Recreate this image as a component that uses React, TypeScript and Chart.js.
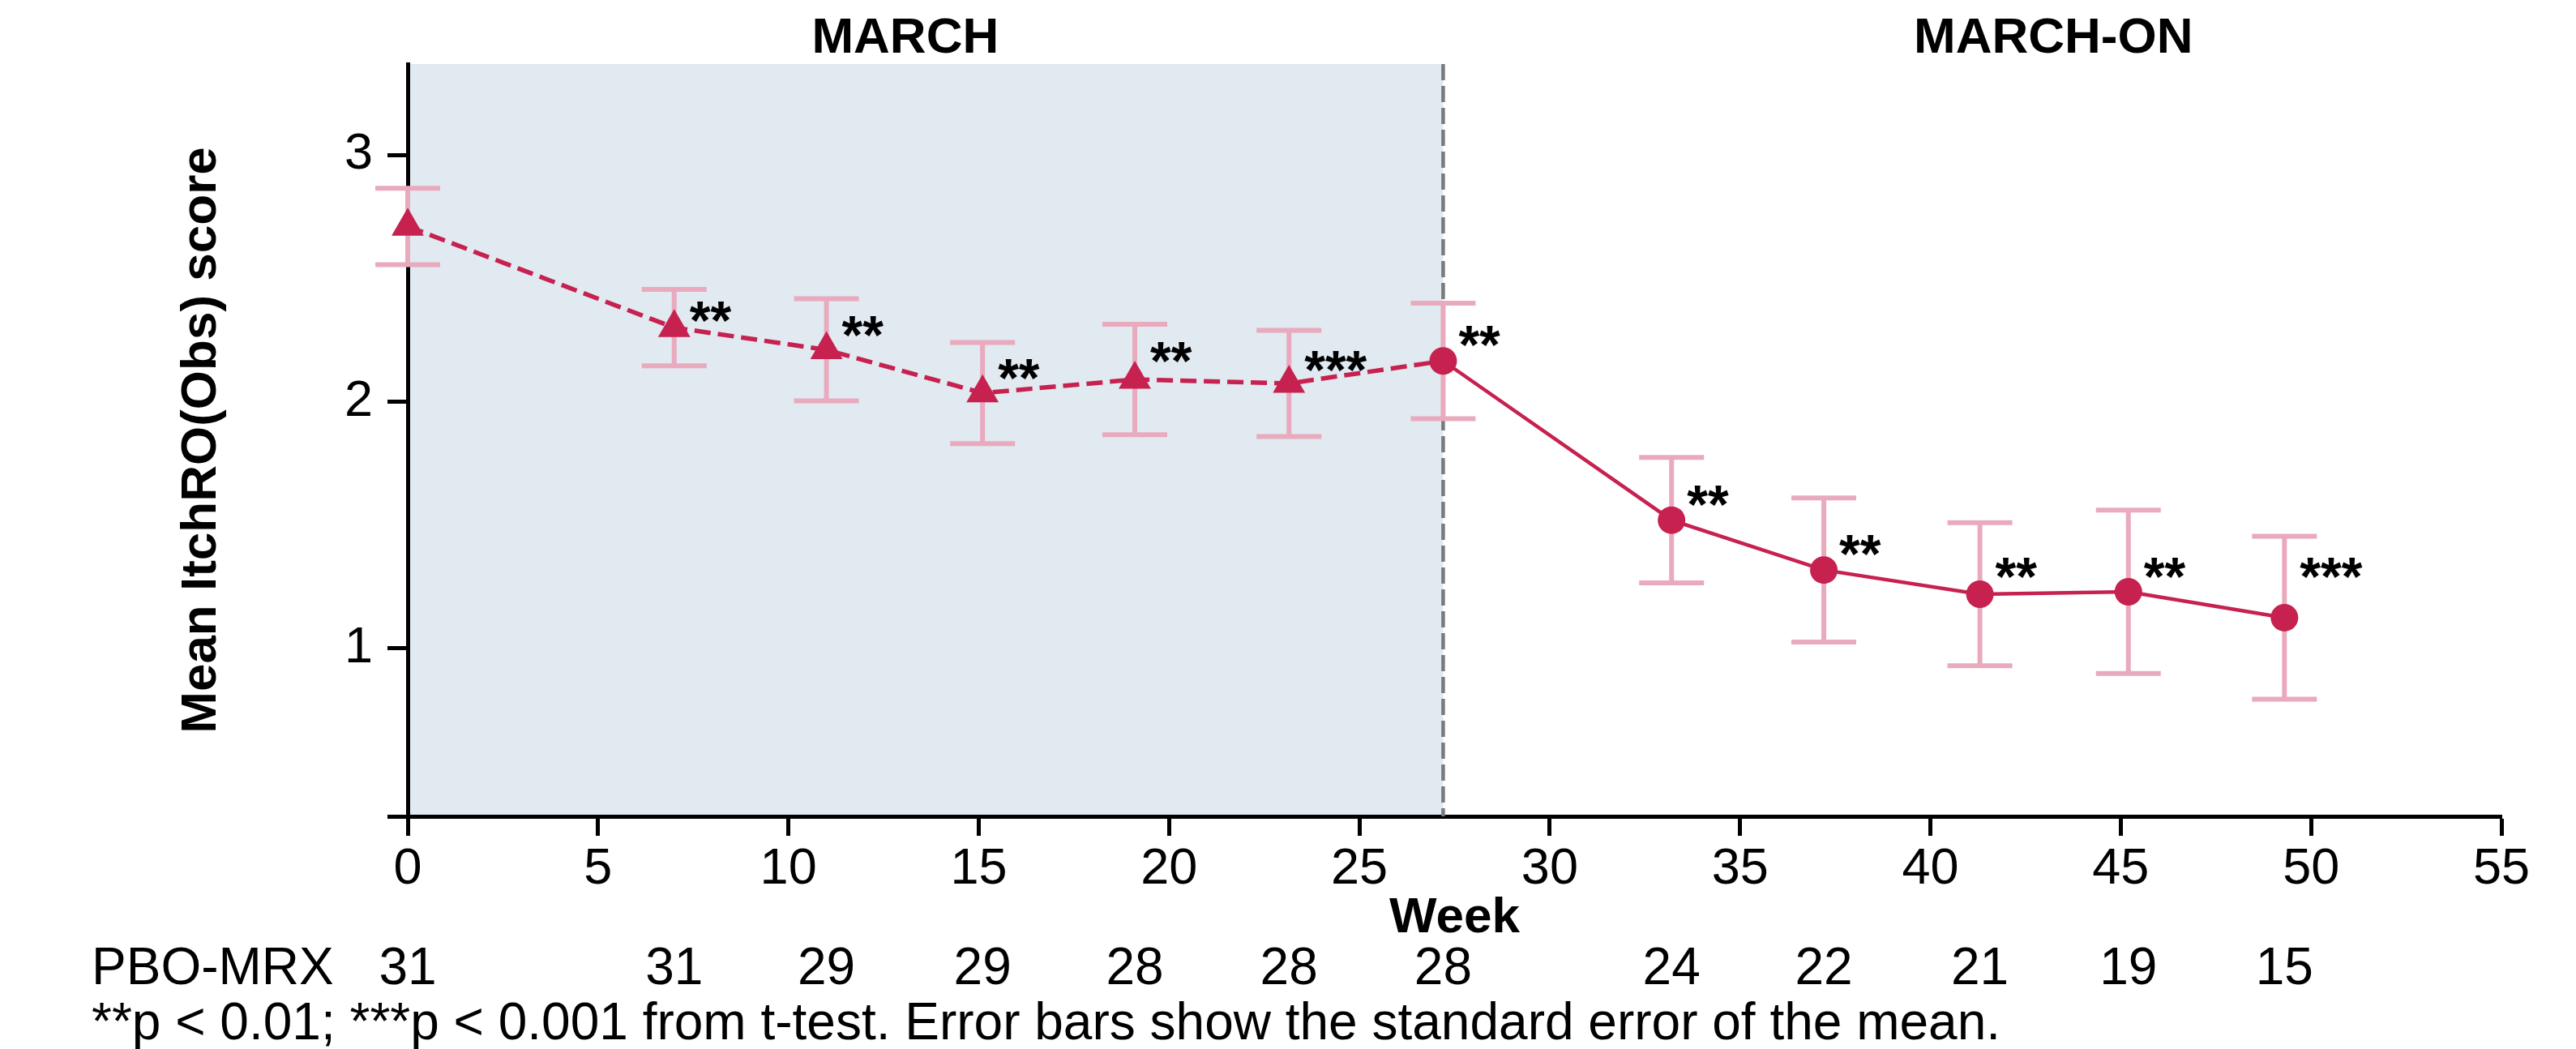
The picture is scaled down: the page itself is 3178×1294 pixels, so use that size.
import React, { useEffect, useRef } from 'react';
import { Chart, registerables } from 'chart.js';

Chart.register(...registerables);

// ---- data ----
const weeks = [0, 7.0, 11.0, 15.1, 19.1, 23.15, 27.2, 33.2, 37.2, 41.3, 45.2, 49.3];
const means = [2.71, 2.3, 2.21, 2.035, 2.09, 2.074, 2.165, 1.52, 1.318, 1.22, 1.23, 1.125];
const stdErrors = [0.155, 0.155, 0.207, 0.205, 0.224, 0.215, 0.234, 0.254, 0.292, 0.29, 0.331, 0.33];
const periods = ['MARCH', 'MARCH', 'MARCH', 'MARCH', 'MARCH', 'MARCH', 'MARCH-ON', 'MARCH-ON', 'MARCH-ON', 'MARCH-ON', 'MARCH-ON', 'MARCH-ON'];
const counts = [31, 31, 29, 29, 28, 28, 28, 24, 22, 21, 19, 15];
const sigLabels = ['', '**', '**', '**', '**', '***', '**', '**', '**', '**', '**', '***'];
const sigLabelY = [null, 2.413, 2.354, 2.178, 2.249, 2.211, 2.314, 1.666, 1.467, 1.374, 1.374, 1.375];
const phaseNames = ['MARCH', 'MARCH-ON'];
const phaseLabelWeeks = [13.07, 43.23];
const shadeRange = [0, 27.2];
const xTickValues = [0, 5, 10, 15, 20, 25, 30, 35, 40, 45, 50, 55];
const yTickValues = [1, 2, 3];
const yAxisMin = 0.32;
const yAxisMax = 3.368;
const countRowLabel = 'PBO-MRX';
const footnote = '**p < 0.01; ***p < 0.001 from t-test. Error bars show the standard error of the mean.';

// ---- style ----
const FONT = '"Liberation Sans", Arial, Helvetica, sans-serif';
const CRIMSON = '#C6214F';
const PINK = '#E9AABD';
const SHADE = '#E1E9F1';
const W = 3178;
const H = 1294;

export default function App() {
  const ref = useRef<HTMLCanvasElement | null>(null);

  useEffect(() => {
    document.body.style.margin = '0';
    document.body.style.overflow = 'hidden';
    const canvas = ref.current;
    if (!canvas) return;

    const decor = {
      id: 'decor',
      beforeDraw(chart: any) {
        const { ctx, chartArea } = chart;
        const xs = chart.scales.x;
        ctx.save();
        ctx.fillStyle = SHADE;
        const x0 = xs.getPixelForValue(shadeRange[0]);
        const x1 = xs.getPixelForValue(shadeRange[1]);
        ctx.fillRect(x0, chartArea.top, x1 - x0, chartArea.bottom - chartArea.top);
        ctx.restore();
      },
      beforeDatasetsDraw(chart: any) {
        const { ctx, chartArea } = chart;
        const xs = chart.scales.x;
        const ys = chart.scales.y;
        ctx.save();
        // dashed divider
        const xd = xs.getPixelForValue(shadeRange[1]);
        ctx.strokeStyle = '#7a7a7a';
        ctx.lineWidth = 4.5;
        ctx.setLineDash([20, 7]);
        ctx.beginPath();
        ctx.moveTo(xd, chartArea.top);
        ctx.lineTo(xd, chartArea.bottom);
        ctx.stroke();
        ctx.setLineDash([]);
        // error bars
        ctx.strokeStyle = PINK;
        ctx.lineWidth = 6;
        const capHalf = 40;
        weeks.forEach((w, i) => {
          const px = xs.getPixelForValue(w);
          const yt = ys.getPixelForValue(means[i] + stdErrors[i]);
          const yb = ys.getPixelForValue(means[i] - stdErrors[i]);
          ctx.beginPath();
          ctx.moveTo(px, yt);
          ctx.lineTo(px, yb);
          ctx.moveTo(px - capHalf, yt);
          ctx.lineTo(px + capHalf, yt);
          ctx.moveTo(px - capHalf, yb);
          ctx.lineTo(px + capHalf, yb);
          ctx.stroke();
        });
        ctx.restore();
      },
      afterDatasetsDraw(chart: any) {
        const { ctx } = chart;
        const xs = chart.scales.x;
        const ys = chart.scales.y;
        ctx.save();
        const fs = 66;
        ctx.font = `bold ${fs}px ${FONT}`;
        ctx.fillStyle = '#000';
        ctx.textAlign = 'left';
        ctx.textBaseline = 'alphabetic';
        sigLabels.forEach((lab, i) => {
          if (!lab || sigLabelY[i] == null) return;
          const px = xs.getPixelForValue(weeks[i]) + 19;
          const top = ys.getPixelForValue(sigLabelY[i] as number);
          ctx.fillText(lab, px, top + 0.73 * fs);
        });
        ctx.restore();
      },
      afterDraw(chart: any) {
        const { ctx } = chart;
        const xs = chart.scales.x;
        ctx.save();
        ctx.fillStyle = '#000';
        ctx.textBaseline = 'alphabetic';
        // phase labels
        ctx.font = `bold 62px ${FONT}`;
        ctx.textAlign = 'center';
        phaseNames.forEach((name, i) => {
          ctx.fillText(name, xs.getPixelForValue(phaseLabelWeeks[i]), 65);
        });
        // counts row
        ctx.font = `64px ${FONT}`;
        ctx.textAlign = 'left';
        ctx.fillText(countRowLabel, 113, 1214);
        ctx.textAlign = 'center';
        counts.forEach((n, i) => {
          ctx.fillText(String(n), xs.getPixelForValue(weeks[i]), 1214);
        });
        // footnote
        ctx.textAlign = 'left';
        ctx.fillText(footnote, 113, 1282);
        ctx.restore();
      },
    };

    const chart = new Chart(canvas, {
      type: 'line',
      data: {
        datasets: [
          {
            data: weeks.map((w, i) => ({ x: w, y: means[i] })),
            borderColor: CRIMSON,
            backgroundColor: CRIMSON,
            pointBackgroundColor: CRIMSON,
            pointBorderColor: CRIMSON,
            pointBorderWidth: 0,
            pointStyle: periods.map((p) => (p === 'MARCH' ? 'triangle' : 'circle')) as any,
            pointRadius: periods.map((p) => (p === 'MARCH' ? 23 : 17)),
            borderWidth: 4.5,
            tension: 0,
            clip: false,
            segment: {
              borderDash: (ctx: any) => (periods[ctx.p0DataIndex] === 'MARCH' ? [20, 9] : undefined),
              borderWidth: (ctx: any) => (periods[ctx.p0DataIndex] === 'MARCH' ? 5.5 : undefined),
            },
          } as any,
        ],
      },
      options: {
        responsive: false,
        animation: false,
        devicePixelRatio: 1,
        layout: { padding: { left: 200, right: 92, top: 79, bottom: 0 } },
        plugins: { legend: { display: false }, tooltip: { enabled: false } },
        scales: {
          x: {
            type: 'linear',
            min: 0,
            max: 55,
            afterBuildTicks: (s: any) => {
              s.ticks = xTickValues.map((v) => ({ value: v }));
            },
            afterFit: (s: any) => {
              s.height = 287;
            },
            border: { display: true, color: '#000', width: 5 },
            grid: { display: true, drawOnChartArea: false, drawTicks: true, tickLength: 24, tickWidth: 5, tickColor: '#000' },
            ticks: { color: '#000', font: { size: 63, family: FONT }, padding: 4, maxRotation: 0, autoSkip: false },
            title: {
              display: true,
              text: 'Week',
              color: '#000',
              font: { size: 62, weight: 'bold', family: FONT },
              padding: { top: 0, bottom: 124 },
            },
          },
          y: {
            type: 'linear',
            min: yAxisMin,
            max: yAxisMax,
            afterBuildTicks: (s: any) => {
              s.ticks = [yAxisMin, ...yTickValues].map((v) => ({ value: v }));
            },
            afterFit: (s: any) => {
              s.width = 303;
            },
            border: { display: true, color: '#000', width: 5 },
            grid: { display: true, drawOnChartArea: false, drawTicks: true, tickLength: 25, tickWidth: 5, tickColor: '#000' },
            ticks: {
              color: '#000',
              font: { size: 63, family: FONT },
              padding: 18,
              autoSkip: false,
              callback: (v: any) => (yTickValues.includes(v) ? String(v) : ''),
            },
            title: {
              display: true,
              text: 'Mean ItchRO(Obs) score',
              color: '#000',
              font: { size: 62, weight: 'bold', family: FONT },
              padding: { top: 12, bottom: 0 },
            },
          },
        },
      } as any,
      plugins: [decor],
    });

    return () => chart.destroy();
  }, []);

  return (
    <div style={{ width: W, height: H, position: 'relative', background: '#fff' }}>
      <canvas ref={ref} width={W} height={H} style={{ width: W, height: H, display: 'block' }} />
    </div>
  );
}
